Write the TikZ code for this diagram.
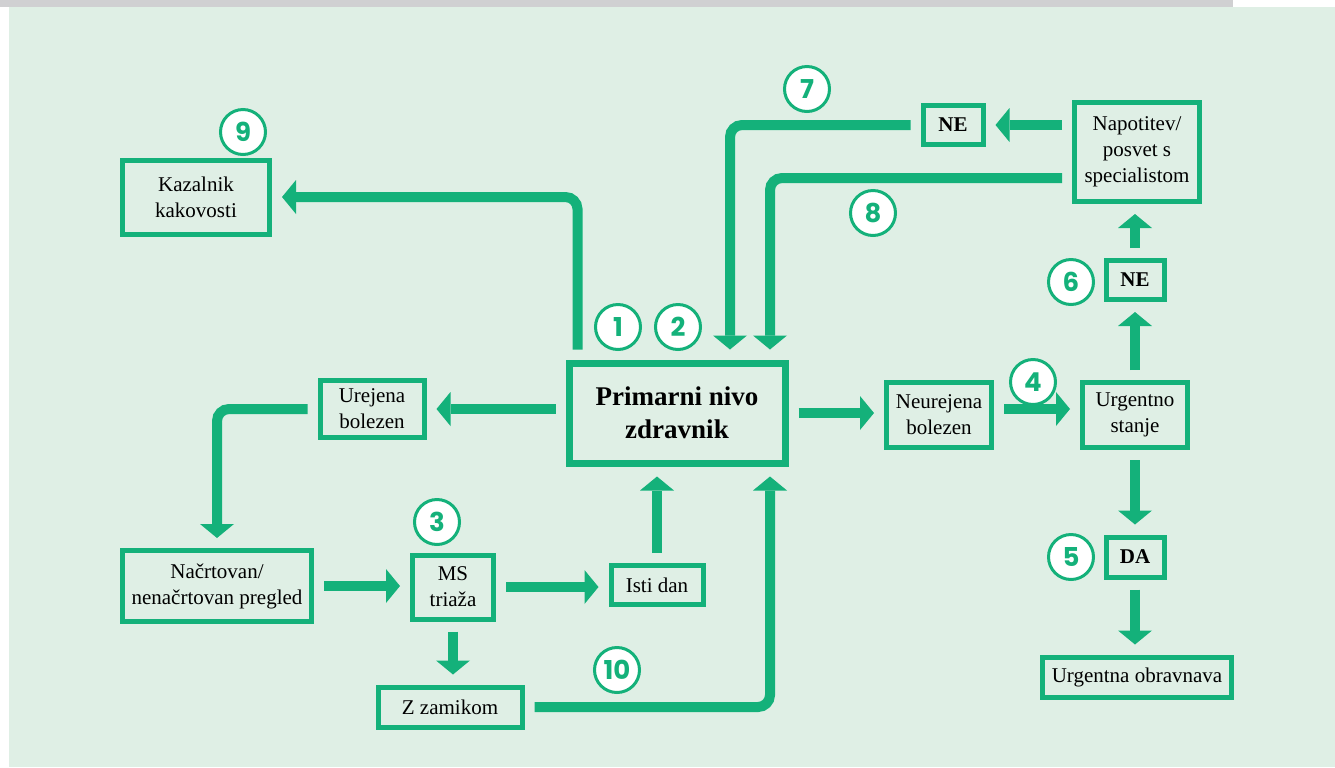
\documentclass[tikz,border=0pt]{standalone}
\usepackage{fontspec}
\setmainfont{Liberation Serif}
\newfontfamily\numfont{Poppins}
\usepackage{tikz}
\usetikzlibrary{arrows.meta}
\definecolor{tgreen}{RGB}{20,177,122}
\definecolor{paleback}{RGB}{223,239,229}
\definecolor{stripgray}{RGB}{208,208,210}
\pgfdeclarelayer{bglayer}
\pgfdeclarelayer{edgelayer}
\pgfdeclarelayer{nodelayer}
\pgfsetlayers{bglayer,edgelayer,nodelayer,main}
\tikzstyle{box}=[rectangle,draw=tgreen,line width=2.5pt,align=center,inner sep=0pt,outer sep=6.25pt,font=\fontsize{10.5}{13}\selectfont]
\tikzstyle{bigbox}=[box,line width=3.5pt,outer sep=6.75pt,font=\fontsize{13.5}{16.5}\selectfont\bfseries]
\tikzstyle{answer}=[box,font=\fontsize{10.5}{13}\selectfont\bfseries]
\tikzstyle{stepno}=[circle,draw=tgreen,fill=white,line width=1.5pt,minimum size=22.5pt,inner sep=0pt,text=tgreen,font=\numfont\bfseries\fontsize{13}{13}\selectfont]
\tikzstyle{flow}=[draw=tgreen,line width=5pt,rounded corners=6pt,-{Triangle[width=17pt,length=7pt,line width=0pt]}]

\begin{document}
\begin{tikzpicture}[x=0.5pt,y=-0.5pt]
	\useasboundingbox (0,0) rectangle (1335,767);
	\begin{pgfonlayer}{bglayer}
		\fill [stripgray] (0,0) rectangle (1233,7);
		\fill [paleback] (9,7) rectangle (1335,767);
	\end{pgfonlayer}
	\begin{pgfonlayer}{nodelayer}
		\node [style=bigbox, minimum width=108pt, minimum height=50pt] (prim) at (677,413) {Primarni nivo\\zdravnik};
		\node [style=box, minimum width=73.5pt, minimum height=37pt] (kaz) at (196,197) {Kazalnik\\kakovosti};
		\node [style=box, minimum width=52pt, minimum height=28.5pt] (urej) at (372,409) {Urejena\\bolezen};
		\node [style=box, minimum width=94.5pt, minimum height=35.5pt] (nac) at (217,586) {Načrtovan/\\nenačrtovan pregled};
		\node [style=box, minimum width=40.5pt, minimum height=32pt] (ms) at (453,587) {MS\\triaža};
		\node [style=box, minimum width=46pt, minimum height=19.5pt] (isti) at (657,585) {Isti dan};
		\node [style=box, minimum width=72pt, minimum height=20pt] (zz) at (450,707) {Z zamikom};

		\node [style=box, minimum width=52.5pt, minimum height=32.5pt] (neur) at (939,415) {Neurejena\\bolezen};
		\node [style=box, minimum width=52.5pt, minimum height=32.5pt] (urg) at (1135,415) {Urgentno\\stanje};
		\node [style=answer, minimum width=29pt, minimum height=19.5pt] (ne6) at (1135,280) {NE};
		\node [style=box, minimum width=62.5pt, minimum height=49.5pt] (napo) at (1137,152) {Napotitev/\\posvet s\\specialistom};
		\node [style=answer, minimum width=30pt, minimum height=19.5pt] (ne7) at (953,125) {NE};
		\node [style=answer, minimum width=29pt, minimum height=20pt] (da) at (1135,557) {DA};
		\node [style=box, minimum width=94.5pt, minimum height=20pt] (uo) at (1137,677) {Urgentna obravnava};

		\node [style=stepno] (n1) at (618,327) {1};
		\node [style=stepno] (n2) at (678,327) {2};
		\node [style=stepno] (n3) at (437,522) {3};
		\node [style=stepno] (n4) at (1033,382) {4};
		\node [style=stepno] (n5) at (1071,557) {5};
		\node [style=stepno] (n6) at (1071,282) {6};
		\node [style=stepno] (n7) at (807,89) {7};
		\node [style=stepno] (n8) at (873,213) {8};
		\node [style=stepno] (n9) at (243,132) {9};
		\node [style=stepno] (n10) at (617,670) {10};
	\end{pgfonlayer}
	\begin{pgfonlayer}{edgelayer}
		\draw [style=flow] ([xshift=11pt]prim.north west) |- (kaz.east);
		\draw [style=flow] (prim.west |- urej) to (urej.east);
		\draw [style=flow] (urej.west) -| (nac.north);
		\draw [style=flow] (nac.east) to (nac.east -| ms.west);
		\draw [style=flow] (ms.east) to (ms.east -| isti.west);
		\draw [style=flow] (isti.north) to (isti.north |- prim.south);
		\draw [style=flow] (ms.south) to (ms.south |- zz.north);
		\draw [style=flow] (zz.east) -| ([xshift=46.5pt]prim.south);
		\draw [style=flow] (prim.east) to (prim.east -| neur.west);
		\draw [style=flow] ([yshift=3pt]neur.east) to ([yshift=3pt]urg.west);
		\draw [style=flow] (urg.north) to (ne6.south);
		\draw [style=flow] (ne6.north) to (ne6.north |- napo.south);
		\draw [style=flow] (napo.west |- ne7) to (ne7.east);
		\draw [style=flow] (ne7.west) -| ([xshift=26.5pt]prim.north);
		\draw [style=flow] ([yshift=-13pt]napo.west) -| ([xshift=46.5pt]prim.north);
		\draw [style=flow] (urg.south) to (da.north);
		\draw [style=flow] (da.south) to (da.south |- uo.north);
	\end{pgfonlayer}
\end{tikzpicture}
\end{document}
